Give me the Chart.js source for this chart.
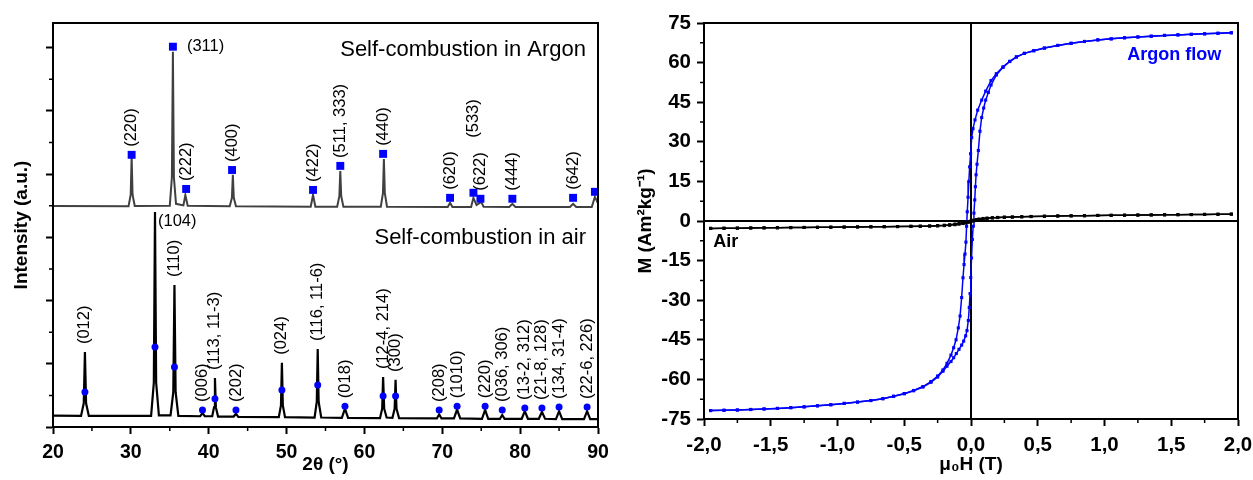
<!DOCTYPE html>
<html>
<head>
<meta charset="utf-8">
<script src="https://cdn.jsdelivr.net/npm/chart.js@4.4.1/dist/chart.umd.min.js"></script>
<style>
  body { margin: 0; background: #fff; }
  canvas { position: absolute; top: 0; }
  #xrd { left: 0; }
  #loop { left: 620px; }
</style>
</head>
<body>
<canvas id="xrd" width="620" height="480"></canvas>
<canvas id="loop" width="633" height="480"></canvas>
<script>
Chart.defaults.font.family = 'Arial, "Liberation Sans", sans-serif';
Chart.defaults.color = '#000';

// ---------- left panel: XRD patterns ----------
const thetaTicks = [20, 30, 40, 50, 60, 70, 80, 90];
const thetaMinor = [25, 35, 45, 55, 65, 75, 85];
const intensityTicks = [0, 200, 400, 600, 800, 1000, 1200];
const intensityMinor = [100, 300, 500, 700, 900, 1100];

// sample burnt in argon (offset trace)
const argonTheta = [20, 29.7, 29.98, 30.1, 30.22, 30.5, 35.0, 35.27, 35.4, 35.53, 35.8, 36.75, 37.0, 37.3,
  42.7, 42.98, 43.1, 43.22, 43.5, 53.1, 53.4, 53.7, 56.5, 56.78, 56.9, 57.02, 57.3,
  62.1, 62.38, 62.5, 62.62, 62.9, 70.7, 71.0, 71.3, 73.7, 74.0, 74.4, 75.0, 75.3,
  78.6, 79.0, 79.4, 86.4, 86.8, 87.2, 89.2, 89.6, 90.0];
const argonCounts = [699, 698, 735, 855, 735, 699, 700, 790, 1187, 790, 706, 701, 734, 700,
  698, 725, 798, 725, 698, 697, 734, 697, 697, 730, 810, 730, 697,
  697, 740, 848, 740, 697, 696, 709, 696, 696, 725, 702, 712, 697,
  696, 706, 696, 696, 706, 696, 696, 728, 708];

// sample burnt in air
const airTheta = [20, 23.6, 23.95, 24.1, 24.25, 24.6, 32.6, 32.95, 33.1, 33.25, 33.6, 35.1, 35.45, 35.6, 35.75, 36.1,
  38.9, 39.2, 39.5, 40.45, 40.68, 40.8, 40.92, 41.2, 43.2, 43.5, 43.8, 49.0, 49.28, 49.4, 49.52, 49.8,
  53.6, 53.88, 54.0, 54.12, 54.45, 57.1, 57.5, 57.9, 62.0, 62.28, 62.4, 62.54, 62.85, 63.6, 63.88, 64.0, 64.12, 64.45,
  69.3, 69.6, 69.9, 71.5, 71.9, 72.3, 75.1, 75.5, 75.9, 77.4, 77.7, 78.0, 80.2, 80.6, 81.0,
  82.4, 82.8, 83.2, 84.6, 85.0, 85.4, 88.2, 88.6, 89.0, 90];
const airCounts = [36, 35, 75, 237, 75, 35, 35, 140, 680, 140, 37, 37, 110, 449, 110, 35,
  34, 44, 34, 34, 62, 155, 62, 33, 33, 42, 32, 31, 68, 203, 68, 31,
  30, 80, 247, 80, 30, 29, 58, 29, 28, 58, 158, 58, 30, 29, 58, 149, 58, 28,
  27, 40, 27, 27, 55, 27, 26, 54, 26, 26, 38, 26, 26, 50, 26,
  26, 48, 26, 25, 50, 25, 25, 50, 25, 25];

// reference reflections (markers) and their indices
const argonPeakTheta = [30.1, 35.4, 37.1, 43.0, 53.4, 56.9, 62.4, 71.0, 74.0, 74.9, 79.0, 86.8, 89.6];
const argonPeakCounts = [861, 1203, 753, 813, 750, 826, 864, 725, 741, 722, 722, 725, 744];
const argonPeakLabels = ['(220)', '(311)', '(222)', '(400)', '(422)', '(511, 333)', '(440)',
  '(620)', '(533)', '(622)', '(444)', '(642)', ''];

const airPeakTheta = [24.1, 33.1, 35.6, 39.2, 40.8, 43.5, 49.4, 54.0, 57.5, 62.4, 64.0,
  69.6, 71.9, 75.5, 77.7, 80.6, 82.8, 85.0, 88.6];
const airPeakCounts = [111, 253, 190, 54, 89, 54, 117, 133, 66, 98, 98,
  54, 66, 66, 54, 60, 60, 63, 63];
const airPeakLabels = ['(012)', '(104)', '(110)', '(006)', '(113, 11-3)', '(202)', '(024)', '(116, 11-6)',
  '(018)', '(12-4, 214)', '(300)', '(208)', '(1010)', '(220)', '(036, 306)', '(13-2, 312)',
  '(21-8, 128)', '(134, 31-4)', '(22-6, 226)'];

// ---------- right panel: hysteresis loops ----------
const fieldTicks = [-2, -1.5, -1, -0.5, 0, 0.5, 1, 1.5, 2];
const fieldMinor = [-1.75, -1.25, -0.75, -0.25, 0.25, 0.75, 1.25, 1.75];
const momentTicks = [-75, -60, -45, -30, -15, 0, 15, 30, 45, 60, 75];
const momentMinor = [-67.5, -52.5, -37.5, -22.5, -7.5, 7.5, 22.5, 37.5, 52.5, 67.5];

// argon flow, field going down from +2 T
const argonFieldDown = [1.95, 1.85, 1.75, 1.65, 1.55, 1.45, 1.35, 1.25, 1.15, 1.05, 0.95, 0.85, 0.75, 0.65, 0.55,
  0.47, 0.40, 0.34, 0.29, 0.24, 0.19, 0.15, 0.11, 0.08, 0.05, 0.03, 0.015, 0.005, -0.003, -0.01,
  -0.016, -0.022, -0.028, -0.033, -0.038, -0.045, -0.052, -0.06, -0.07, -0.082, -0.095, -0.112, -0.13, -0.15, -0.18,
  -0.21, -0.25, -0.3, -0.36, -0.43, -0.5, -0.58, -0.66, -0.75, -0.85, -0.95, -1.05, -1.15, -1.25, -1.35,
  -1.45, -1.55, -1.65, -1.75, -1.85, -1.95];
const argonMomentDown = [71.3, 71.1, 70.9, 70.7, 70.5, 70.3, 70.0, 69.7, 69.4, 69.0, 68.6, 68.0, 67.3, 66.5, 65.5,
  64.5, 63.5, 62.2, 60.5, 58.4, 55.8, 53.2, 49.2, 45.8, 42.0, 38.3, 35.0, 31.6, 25.5, 20.5,
  15.0, 9.0, 3.5, -2.0, -8.0, -12.5, -16.5, -21.5, -29.0, -36.0, -40.5, -45.0, -48.0, -50.8, -53.9,
  -56.4, -58.7, -60.8, -62.7, -64.2, -65.4, -66.4, -67.3, -68.0, -68.6, -69.1, -69.6, -70.0, -70.4, -70.7,
  -71.0, -71.2, -71.4, -71.6, -71.7, -71.8];
// argon flow, field going back up from -2 T
const argonFieldUp = [-1.95, -1.85, -1.75, -1.65, -1.55, -1.45, -1.35, -1.25, -1.15, -1.05, -0.95, -0.85, -0.75, -0.66,
  -0.58, -0.5, -0.43, -0.36, -0.3, -0.25, -0.21, -0.18, -0.15, -0.13, -0.11, -0.09, -0.07, -0.055, -0.04, -0.03,
  -0.02, -0.013, -0.007, -0.002, 0.004, 0.01, 0.016, 0.022, 0.028, 0.033, 0.038, 0.045, 0.055, 0.067, 0.08,
  0.095, 0.11, 0.13, 0.15, 0.19, 0.24, 0.29, 0.34, 0.40, 0.47, 0.55, 0.65, 0.75, 0.85, 0.95,
  1.05, 1.15, 1.25, 1.35, 1.45, 1.55, 1.65, 1.75, 1.85, 1.95];
const argonMomentUp = [-71.8, -71.7, -71.6, -71.4, -71.2, -71.0, -70.7, -70.4, -70.0, -69.6, -69.1, -68.6, -68.0, -67.3,
  -66.4, -65.4, -64.3, -62.9, -61.1, -59.1, -56.9, -55.0, -53.2, -51.8, -50.2, -48.6, -47.0, -45.5, -43.5, -41.5,
  -37.7, -32.8, -27.5, -21.4, -14.0, -7.0, -2.0, 3.0, 8.0, 13.0, 17.5, 21.5, 26.7, 34.0, 39.2,
  42.8, 45.8, 48.7, 51.5, 55.3, 58.2, 60.4, 62.1, 63.5, 64.5, 65.5, 66.5, 67.3, 68.0, 68.6,
  69.0, 69.4, 69.7, 70.0, 70.3, 70.5, 70.7, 70.9, 71.1, 71.3];

// air
const airFieldDown = [1.95, 1.85, 1.75, 1.65, 1.55, 1.45, 1.35, 1.25, 1.15, 1.05, 0.95, 0.85, 0.75, 0.65, 0.55,
  0.45, 0.38, 0.31, 0.25, 0.2, 0.16, 0.12, 0.09, 0.06, 0.04, 0.02, 0, -0.02, -0.04, -0.06,
  -0.09, -0.12, -0.16, -0.2, -0.25, -0.31, -0.38, -0.45, -0.55, -0.65, -0.75, -0.85, -0.95, -1.05, -1.15,
  -1.25, -1.35, -1.45, -1.55, -1.65, -1.75, -1.85, -1.95];
const airMomentDown = [2.6, 2.55, 2.5, 2.45, 2.4, 2.35, 2.3, 2.25, 2.2, 2.15, 2.1, 2.0, 1.95, 1.9, 1.8,
  1.7, 1.6, 1.5, 1.45, 1.35, 1.25, 1.1, 0.95, 0.75, 0.55, 0.3, 0.05, -0.2, -0.45, -0.7,
  -0.95, -1.15, -1.4, -1.6, -1.75, -1.85, -1.95, -2.0, -2.1, -2.15, -2.2, -2.25, -2.3, -2.35, -2.4,
  -2.45, -2.5, -2.55, -2.6, -2.65, -2.7, -2.75, -2.8];
const airFieldUp = [-1.95, -1.85, -1.75, -1.65, -1.55, -1.45, -1.35, -1.25, -1.15, -1.05, -0.95, -0.85, -0.75, -0.65, -0.55,
  -0.45, -0.38, -0.31, -0.25, -0.2, -0.16, -0.12, -0.09, -0.06, -0.04, -0.02, 0, 0.02, 0.04, 0.06,
  0.09, 0.12, 0.16, 0.2, 0.25, 0.31, 0.38, 0.45, 0.55, 0.65, 0.75, 0.85, 0.95, 1.05, 1.15,
  1.25, 1.35, 1.45, 1.55, 1.65, 1.75, 1.85, 1.95];
const airMomentUp = [-2.8, -2.75, -2.7, -2.65, -2.6, -2.55, -2.5, -2.45, -2.4, -2.35, -2.3, -2.25, -2.2, -2.15, -2.1,
  -2.05, -2.0, -1.95, -1.85, -1.75, -1.6, -1.4, -1.2, -0.95, -0.75, -0.5, -0.2, 0.05, 0.3, 0.5,
  0.75, 0.95, 1.15, 1.3, 1.4, 1.5, 1.6, 1.7, 1.8, 1.9, 1.95, 2.0, 2.1, 2.15, 2.2,
  2.25, 2.3, 2.35, 2.4, 2.45, 2.5, 2.55, 2.6];

const pts = (xs, ys) => xs.map((x, i) => ({ x, y: ys[i] }));

// frame around the plot, short minor ticks, optional zero lines
function makeFrame(minorX, minorY, zeroLines) {
  return {
    id: 'frame',
    beforeDatasetsDraw(chart) {
      if (!zeroLines) return;
      const { ctx, chartArea: a, scales: { x, y } } = chart;
      const x0 = x.getPixelForValue(0), y0 = y.getPixelForValue(0);
      ctx.save();
      ctx.strokeStyle = '#000';
      ctx.lineWidth = 2;
      ctx.beginPath();
      ctx.moveTo(x0, a.top); ctx.lineTo(x0, a.bottom);
      ctx.moveTo(a.left, y0); ctx.lineTo(a.right, y0);
      ctx.stroke();
      ctx.restore();
    },
    afterDraw(chart) {
      const { ctx, chartArea: a, scales: { x, y } } = chart;
      ctx.save();
      ctx.strokeStyle = '#000';
      ctx.lineWidth = 2;
      ctx.strokeRect(a.left, a.top, a.right - a.left, a.bottom - a.top);
      ctx.lineWidth = 1.5;
      ctx.beginPath();
      minorX.forEach(v => {
        const px = x.getPixelForValue(v);
        ctx.moveTo(px, a.bottom); ctx.lineTo(px, a.bottom + 4);
      });
      minorY.forEach(v => {
        const py = y.getPixelForValue(v);
        ctx.moveTo(a.left, py); ctx.lineTo(a.left - 4, py);
      });
      ctx.stroke();
      ctx.restore();
    }
  };
}

function tickGrid() {
  return { display: true, drawOnChartArea: false, drawTicks: true, tickLength: 7, tickWidth: 2, tickColor: '#000' };
}

// ---- XRD chart ----
const labelLayout = {
  'argon:(311)': { side: true, dx: 14, dy: 0 },
  'air:(104)': { side: true, dx: 3, dy: 9 },
  'argon:(533)': { gap: 55 }
};

const peakLabels = {
  id: 'peakLabels',
  afterDatasetsDraw(chart) {
    const { ctx, chartArea: a, scales: { x, y } } = chart;
    ctx.save();
    ctx.fillStyle = '#000';
    ctx.font = '16.5px Arial';
    ctx.textBaseline = 'middle';
    ctx.textAlign = 'left';
    const sets = [
      ['argon', argonPeakTheta, argonPeakCounts, argonPeakLabels, argonTheta, argonCounts],
      ['air', airPeakTheta, airPeakCounts, airPeakLabels, airTheta, airCounts]
    ];
    sets.forEach(([name, pt, pc, pl, tt, tc]) => {
      pl.forEach((text, i) => {
        if (!text) return;
        // label sits above whichever is higher: the marker or the peak itself
        let top = pc[i];
        tt.forEach((t, j) => { if (Math.abs(t - pt[i]) < 0.2) top = Math.max(top, tc[j]); });
        const px = x.getPixelForValue(pt[i]);
        const py = y.getPixelForValue(top);
        const lay = labelLayout[name + ':' + text] || {};
        if (lay.side) {
          ctx.fillText(text, px + lay.dx, py + lay.dy);
        } else {
          ctx.save();
          ctx.translate(px, py - (lay.gap || 8));
          ctx.rotate(-Math.PI / 2);
          ctx.fillText(text, 0, 0);
          ctx.restore();
        }
      });
    });
    ctx.font = '22px Arial';
    ctx.textAlign = 'right';
    ctx.fillText('Self-combustion in Argon', a.right - 12, a.top + 27);
    ctx.fillText('Self-combustion in air', a.right - 12, a.top + 215);
    ctx.restore();
  }
};

new Chart(document.getElementById('xrd'), {
  type: 'scatter',
  data: {
    datasets: [
      { data: pts(argonPeakTheta, argonPeakCounts), pointStyle: 'rect', pointRadius: 5.6,
        backgroundColor: '#0000ff', borderWidth: 0, order: 0 },
      { data: pts(airPeakTheta, airPeakCounts), pointStyle: 'circle', pointRadius: 3.5,
        backgroundColor: '#0000ff', borderWidth: 0, order: 0 },
      { data: pts(argonTheta, argonCounts), showLine: true, borderColor: '#404040', borderWidth: 2,
        pointRadius: 0, tension: 0, order: 1 },
      { data: pts(airTheta, airCounts), showLine: true, borderColor: '#000', borderWidth: 2.2,
        pointRadius: 0, tension: 0, order: 1 }
    ]
  },
  options: {
    responsive: false,
    animation: false,
    layout: { padding: { left: 0, top: 23, right: 22, bottom: 0 } },
    plugins: { legend: { display: false }, tooltip: { enabled: false } },
    scales: {
      x: {
        type: 'linear', min: 20, max: 90,
        afterBuildTicks: s => { s.ticks = thetaTicks.map(v => ({ value: v })); },
        afterFit: s => { s.height = 53; s.paddingLeft = 0; s.paddingRight = 0; },
        grid: tickGrid(),
        border: { display: true, color: '#000', width: 2 },
        ticks: { autoSkip: false, maxRotation: 0, padding: 7, font: { size: 19.5, weight: 'bold' } },
        title: { display: true, text: '2θ (°)', padding: { top: 0, bottom: 4 }, font: { size: 19, weight: 'bold' } }
      },
      y: {
        type: 'linear', min: 0, max: 1278,
        afterBuildTicks: s => { s.ticks = intensityTicks.map(v => ({ value: v })); },
        afterFit: s => { s.width = 53; s.paddingTop = 0; s.paddingBottom = 0; },
        grid: tickGrid(),
        border: { display: true, color: '#000', width: 2 },
        ticks: { callback: () => '' },
        title: { display: true, text: 'Intensity (a.u.)', padding: { top: 10, bottom: 0 }, font: { size: 19, weight: 'bold' } }
      }
    }
  },
  plugins: [makeFrame(thetaMinor, intensityMinor, false), peakLabels]
});

// ---- hysteresis chart ----
const loopLabels = {
  id: 'loopLabels',
  afterDatasetsDraw(chart) {
    const { ctx, scales: { x, y } } = chart;
    ctx.save();
    ctx.font = 'bold 18px Arial';
    ctx.textBaseline = 'middle';
    ctx.textAlign = 'left';
    ctx.fillStyle = '#0000ff';
    ctx.fillText('Argon flow', x.getPixelForValue(1.17), y.getPixelForValue(62.7));
    ctx.fillStyle = '#000';
    ctx.fillText('Air', x.getPixelForValue(-1.93), y.getPixelForValue(-8.1));
    ctx.restore();
  }
};

const loopSet = (xs, ys, color, order) => ({
  data: pts(xs, ys), showLine: true, borderColor: color, borderWidth: 1.5, tension: 0,
  pointStyle: 'rect', pointRadius: 2.2, pointBackgroundColor: color, pointBorderWidth: 0, order
});

new Chart(document.getElementById('loop'), {
  type: 'scatter',
  data: {
    datasets: [
      loopSet(airFieldDown, airMomentDown, '#000', 0),
      loopSet(airFieldUp, airMomentUp, '#000', 0),
      loopSet(argonFieldDown, argonMomentDown, '#0000ff', 1),
      loopSet(argonFieldUp, argonMomentUp, '#0000ff', 1)
    ]
  },
  options: {
    responsive: false,
    animation: false,
    layout: { padding: { left: 0, top: 23, right: 15, bottom: 0 } },
    plugins: { legend: { display: false }, tooltip: { enabled: false } },
    scales: {
      x: {
        type: 'linear', min: -2, max: 2,
        afterBuildTicks: s => { s.ticks = fieldTicks.map(v => ({ value: v })); },
        afterFit: s => { s.height = 61; s.paddingLeft = 0; s.paddingRight = 0; },
        grid: tickGrid(),
        border: { display: true, color: '#000', width: 2 },
        ticks: { autoSkip: false, maxRotation: 0, padding: 7, font: { size: 20.5, weight: 'bold' },
          callback: v => v.toFixed(1).replace('.', ',') },
        title: { display: true, text: 'μ₀H (T)', padding: { top: 0, bottom: 4 }, font: { size: 19, weight: 'bold' } }
      },
      y: {
        type: 'linear', min: -75, max: 75,
        afterBuildTicks: s => { s.ticks = momentTicks.map(v => ({ value: v })); },
        afterFit: s => { s.width = 84; s.paddingTop = 0; s.paddingBottom = 0; },
        grid: tickGrid(),
        border: { display: true, color: '#000', width: 2 },
        ticks: { padding: 6, font: { size: 20.5, weight: 'bold' }, callback: v => String(v) },
        title: { display: true, text: 'M (Am²kg⁻¹)', padding: { top: 14, bottom: 0 }, font: { size: 19, weight: 'bold' } }
      }
    }
  },
  plugins: [makeFrame(fieldMinor, momentMinor, true), loopLabels]
});
</script>
</body>
</html>
